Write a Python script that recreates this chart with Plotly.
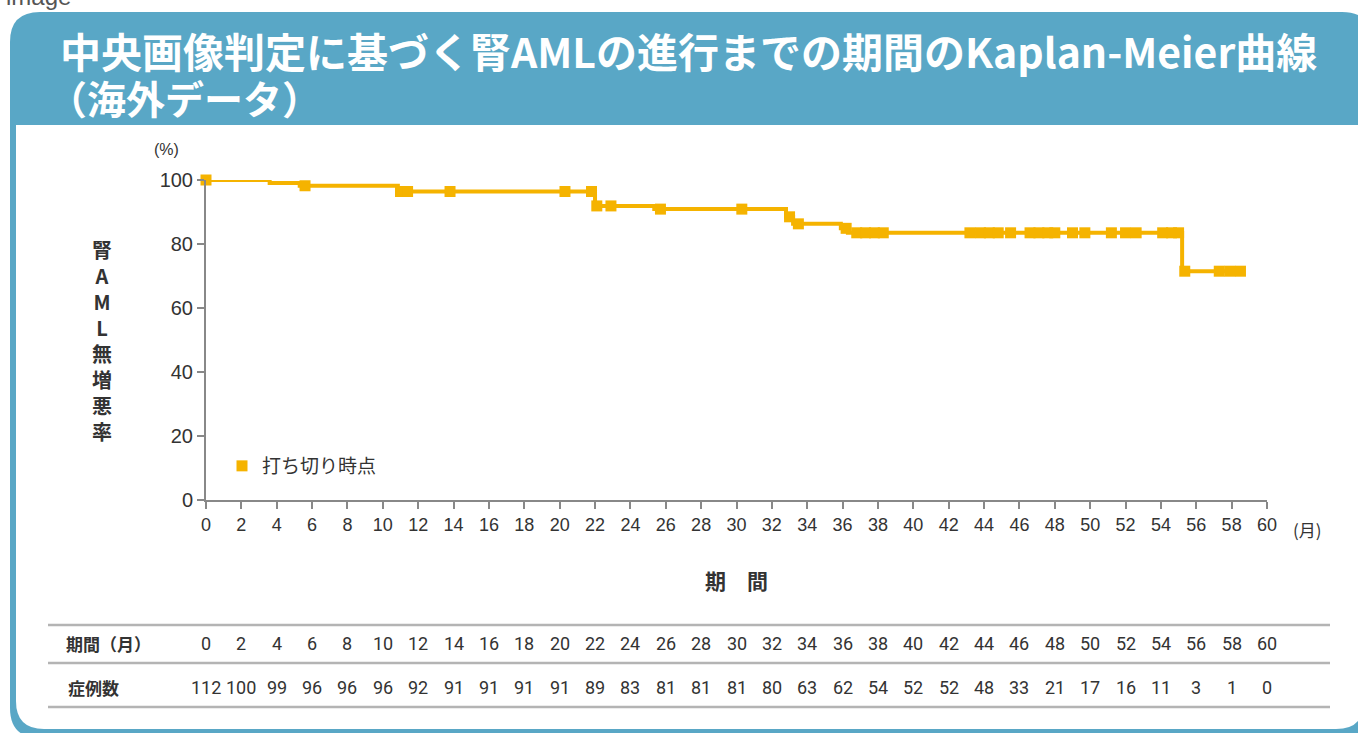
import numpy as np
import plotly.graph_objects as go

# ---------------- data ----------------
event_times = [0, 3.6, 5.3, 10.85, 22.0, 25.35, 32.8, 33.2, 35.9, 36.3, 55.2]
survival = [100, 99.1, 98.2, 96.4, 91.9, 90.9, 88.5, 86.3, 84.9, 83.5, 71.5]
last_followup = 58.6

censor_times = [0, 5.6, 11.0, 11.4, 13.8, 20.3, 21.8, 22.1, 22.9, 25.7, 30.3,
                33.0, 33.5, 36.2, 36.8, 37.3, 37.8, 38.3, 43.2, 43.8, 44.3,
                44.8, 45.5, 46.6, 47.1, 47.6, 48.0, 49.0, 49.7, 51.2, 52.0,
                52.6, 54.1, 54.6, 55.0, 55.35, 57.3, 57.9, 58.5]

table_months = list(range(0, 61, 2))
at_risk = [112, 100, 99, 96, 96, 96, 92, 91, 91, 91, 91, 89, 83, 81, 81, 81,
           80, 63, 62, 54, 52, 52, 48, 33, 21, 17, 16, 11, 3, 1, 0]

y_ticks = [0, 20, 40, 60, 80, 100]
x_ticks = list(range(0, 61, 2))

title_line1 = "中央画像判定に基づく腎AMLの進行までの期間のKaplan-Meier曲線"
title_line2 = "（海外データ）"
y_title_chars = ["腎", "A", "M", "L", "無", "増", "悪", "率"]
legend_name = "打ち切り時点"

# ---------------- helpers ----------------
W, H = 1358, 733
L, R, T, B = 206, 91, 180, 233
PW, PH = W - L - R, H - T - B
ORANGE = "#F5B300"
BLUE = "#59A7C6"
TXT = "#333333"
FONT = "Noto Sans CJK JP"


def px(x):
    return (x - L) / PW


def py(y):
    return (H - B - y) / PH


def rrect(x0, y0, x1, y1, rtl, rtr, rbr, rbl):
    def P(x, y):
        return f"{px(x):.5f},{py(y):.5f}"
    s = f"M {P(x0 + rtl, y0)} L {P(x1 - rtr, y0)} Q {P(x1, y0)} {P(x1, y0 + rtr)} "
    s += f"L {P(x1, y1 - rbr)} Q {P(x1, y1)} {P(x1 - rbr, y1)} "
    s += f"L {P(x0 + rbl, y1)} Q {P(x0, y1)} {P(x0, y1 - rbl)} "
    s += f"L {P(x0, y0 + rtl)} Q {P(x0, y0)} {P(x0 + rtl, y0)} Z"
    return s


et = np.array(event_times)
sv = np.array(survival)
ct = np.array(censor_times)
idx = np.searchsorted(et, ct, side="right") - 1
censor_vals = sv[idx]

step_x = list(event_times) + [last_followup]
step_y = list(survival) + [survival[-1]]

fig = go.Figure()
fig.add_trace(go.Scatter(
    x=step_x, y=step_y, mode="lines", line=dict(color=ORANGE, width=4, shape="hv"),
    showlegend=False, cliponaxis=False, hoverinfo="skip"))
fig.add_trace(go.Scatter(
    x=ct, y=censor_vals, mode="markers", name=legend_name,
    marker=dict(symbol="square", size=11, color=ORANGE),
    cliponaxis=False))

shapes = [
    dict(type="path", xref="paper", yref="paper", layer="below",
         path=rrect(10, 12, 1372, 738, 30, 30, 30, 30),
         fillcolor=BLUE, line=dict(width=0)),
    dict(type="path", xref="paper", yref="paper", layer="below",
         path=rrect(16, 125, 1364, 729, 0, 0, 28, 28),
         fillcolor="white", line=dict(width=0)),
]
for yline in [625, 663, 707]:
    shapes.append(dict(type="line", xref="paper", yref="paper",
                       x0=px(48), x1=px(1330), y0=py(yline), y1=py(yline),
                       line=dict(color="#b4b4b4", width=2.5)))

ann = []
ann.append(dict(text="image", x=px(4), y=py(12), xref="paper", yref="paper",
                xanchor="left", yanchor="bottom", showarrow=False,
                font=dict(family="Liberation Sans", size=24, color="#555555")))
ann.append(dict(text=f"<b>{title_line1}</b>", x=px(58), y=py(50), xref="paper", yref="paper",
                xanchor="left", yanchor="middle", showarrow=False,
                font=dict(family=FONT, size=41, color="white")))
ann.append(dict(text=f"<b>{title_line2}</b>", x=px(46), y=py(97), xref="paper", yref="paper",
                xanchor="left", yanchor="middle", showarrow=False,
                font=dict(family=FONT, size=39, color="white")))
ann.append(dict(text="(%)", x=px(166), y=py(149), xref="paper", yref="paper",
                xanchor="center", yanchor="middle", showarrow=False,
                font=dict(family="Liberation Sans", size=16, color=TXT)))
ann.append(dict(text="<b>" + "<br>".join(y_title_chars) + "</b>", x=px(102), y=py(340),
                xref="paper", yref="paper", xanchor="center", yanchor="middle",
                showarrow=False, font=dict(family=FONT, size=20, color=TXT)))
ann.append(dict(text="(月)", x=px(1307), y=py(529), xref="paper", yref="paper",
                xanchor="center", yanchor="middle", showarrow=False,
                font=dict(family=FONT, size=17, color=TXT)))
ann.append(dict(text="<b>期　間</b>", x=px(736), y=py(580), xref="paper", yref="paper",
                xanchor="center", yanchor="middle", showarrow=False,
                font=dict(family=FONT, size=21, color=TXT)))
ann.append(dict(text="<b>期間（月）</b>", x=px(64), y=py(643), xref="paper", yref="paper",
                xanchor="left", yanchor="middle", showarrow=False,
                font=dict(family=FONT, size=17, color=TXT)))
ann.append(dict(text="<b>症例数</b>", x=px(66), y=py(687), xref="paper", yref="paper",
                xanchor="left", yanchor="middle", showarrow=False,
                font=dict(family=FONT, size=17, color=TXT)))
for m, n in zip(table_months, at_risk):
    ann.append(dict(text=str(m), x=m, y=py(643), xref="x", yref="paper",
                    xanchor="center", yanchor="middle", showarrow=False,
                    font=dict(family="Liberation Sans Narrow, Roboto", size=18, color=TXT)))
    ann.append(dict(text=str(n), x=m, y=py(687), xref="x", yref="paper",
                    xanchor="center", yanchor="middle", showarrow=False,
                    font=dict(family="Liberation Sans Narrow, Roboto", size=18, color=TXT)))

fig.update_layout(
    width=W, height=H,
    margin=dict(l=L, r=R, t=T, b=B, pad=0),
    paper_bgcolor="white", plot_bgcolor="rgba(0,0,0,0)",
    shapes=shapes, annotations=ann,
    showlegend=True,
    legend=dict(x=px(222), y=py(466), xanchor="left", yanchor="middle",
                bgcolor="rgba(0,0,0,0)", font=dict(family=FONT, size=19, color=TXT),
                itemwidth=30),
    font=dict(family=FONT, color=TXT),
    xaxis=dict(range=[0, 60], tickvals=x_ticks, ticks="outside", ticklen=7,
               tickcolor="#888888", tickwidth=1.5, showline=True, linecolor="#888888",
               linewidth=2, showgrid=False, zeroline=False,
               tickfont=dict(family="Liberation Sans", size=18, color=TXT)),
    yaxis=dict(range=[0, 100], tickvals=y_ticks, ticks="outside", ticklen=7,
               tickcolor="#888888", tickwidth=1.5, showline=True, linecolor="#888888",
               linewidth=2, showgrid=False, zeroline=False,
               tickfont=dict(family="Liberation Sans", size=20, color=TXT)),
)

fig.write_html("out.html", config={"displayModeBar": False},
               post_script="document.body.style.margin='0';document.body.style.overflow='hidden';")
